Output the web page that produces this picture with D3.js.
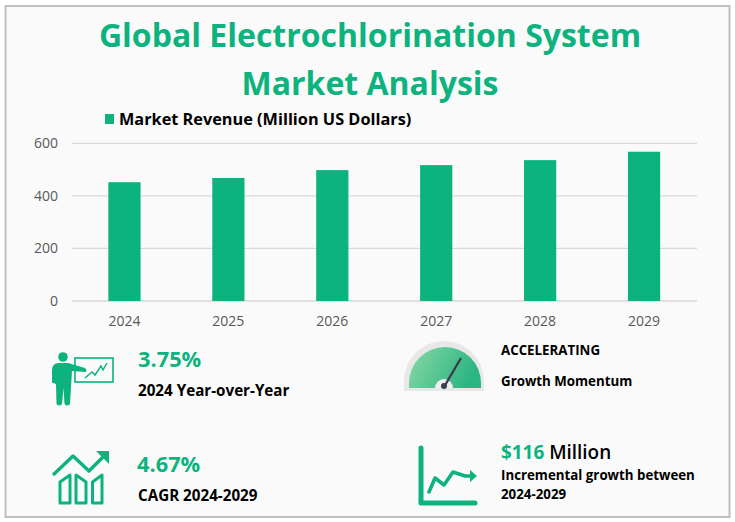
<html>
<head>
<meta charset="utf-8">
<style>
  html, body { margin: 0; padding: 0; background: #fff; }
  svg { display: block; }
  text { font-family: "Open Sans", "Noto Sans", sans-serif; }
  .axis text { font-size: 14px; fill: #595959; }
  .axis path, .axis line { display: none; }
  .grid line { stroke: #d9d9d9; stroke-width: 1.3; }
  .title { font-size: 32px; font-weight: 700; fill: #0db37e; text-anchor: middle; }
  .label { font-size: 15.2px; font-weight: 700; fill: #000; }
  .small { font-size: 13.3px; }
  .big { font-size: 21.8px; font-weight: 700; fill: #0db37e; }
</style>
<script src="https://d3js.org/d3.v7.min.js"></script>
</head>
<body>
<script>
var years = ["2024", "2025", "2026", "2027", "2028", "2029"]
var revenue = [452, 468, 498, 517, 536, 568]
var yTicks = [0, 200, 400, 600]
var titleLines = ["Global Electrochlorination System", "Market Analysis"]
var seriesName = "Market Revenue (Million US Dollars)"
var green = "#0db37e"

var svg = d3.select("body").append("svg").attr("width", 735).attr("height", 522)

// frame
svg.append("rect").attr("x", 5.5).attr("y", 6).attr("width", 724).attr("height", 511)
   .attr("fill", "#fafafa").attr("stroke", "#bfbfbf").attr("stroke-width", 2)

// title
svg.selectAll(".title").data(titleLines).enter().append("text")
   .attr("class", "title").attr("x", 370)
   .attr("y", function(d, i) { return 47 + i * 48 }).text(function(d) { return d })

// legend
svg.append("rect").attr("x", 105).attr("y", 114).attr("width", 9).attr("height", 10).attr("fill", green)
svg.append("text").attr("x", 119).attr("y", 125).attr("font-size", 16.3).attr("font-weight", 700)
   .attr("fill", "#000").text(seriesName)

// chart
var x = d3.scaleBand().domain(years).range([72.5, 696]).paddingInner(0.69).paddingOuter(0.345)
var y = d3.scaleLinear().domain([0, 600]).range([301, 143.3])

svg.append("g").attr("class", "grid").selectAll("line").data(yTicks).enter().append("line")
   .attr("x1", 72).attr("x2", 697)
   .attr("y1", function(d) { return y(d) }).attr("y2", function(d) { return y(d) })

svg.selectAll(".bar").data(revenue).enter().append("rect").attr("class", "bar")
   .attr("x", function(d, i) { return x(years[i]) })
   .attr("y", function(d) { return y(d) })
   .attr("width", x.bandwidth())
   .attr("height", function(d) { return y(0) - y(d) })
   .attr("fill", green)

svg.append("g").attr("class", "axis").attr("transform", "translate(0,301)")
   .call(d3.axisBottom(x).tickSize(0).tickPadding(15))
svg.append("g").attr("class", "axis").attr("transform", "translate(58,0)")
   .call(d3.axisLeft(y).tickValues(yTicks).tickSize(0).tickPadding(0))

// stats text
svg.append("text").attr("class", "big").attr("x", 138).attr("y", 367).text("3.75%")
svg.append("text").attr("class", "label").attr("x", 138).attr("y", 396).text("2024 Year-over-Year")
svg.append("text").attr("class", "big").attr("x", 137).attr("y", 472).text("4.67%")
svg.append("text").attr("class", "label").attr("x", 138).attr("y", 501).text("CAGR 2024-2029")
svg.append("text").attr("class", "label small").attr("x", 501).attr("y", 355).text("ACCELERATING")
svg.append("text").attr("class", "label small").attr("x", 501).attr("y", 386).text("Growth Momentum")
var m = svg.append("text").attr("class", "big").attr("x", 501).attr("y", 459).style("font-size", "18.9px")
m.append("tspan").text("$116 ")
m.append("tspan").style("fill", "#000").style("font-weight", 600).text("Million")
svg.append("text").attr("class", "label small").attr("x", 501).attr("y", 480).text("Incremental growth between")
svg.append("text").attr("class", "label small").attr("x", 501).attr("y", 499).text("2024-2029")

// presenter icon
var p = svg.append("g").attr("fill", green).attr("stroke", "none")
p.append("circle").attr("cx", 63).attr("cy", 357).attr("r", 4.8)
p.append("path").attr("d", "M52 370 Q52 364 58 363 L68 363 L85 368 Q88 371 85 372 L72 371 L71 387 L70 404 Q67 407 64.5 404 L63.5 388 L62 404 Q59 407 56.5 404 L56 384 L55 384 L55 383 Q52 384 52 382 Z")
svg.append("rect").attr("x", 75).attr("y", 358).attr("width", 38).attr("height", 24)
   .attr("fill", "none").attr("stroke", green).attr("stroke-width", 1.6)
svg.append("path").attr("d", "M85 378 L92 372 L95 375 L101 366 L103 370 L107 363")
   .attr("fill", "none").attr("stroke", green).attr("stroke-width", 1.5)

// growth icon
var g1 = svg.append("g").attr("fill", "none").attr("stroke", green).attr("stroke-linejoin", "round")
g1.append("path").attr("d", "M53 475 L73 456 L89 471 L107 453").attr("stroke-width", 3.4)
svg.append("path").attr("d", "M96 451 L109 451 L109 464 Z").attr("fill", green)
g1.append("path").attr("d", "M60 503 L60 482 L70 475 L70 503 Z").attr("stroke-width", 3)
g1.append("path").attr("d", "M76 503 L76 475 L86 482 L86 503 Z").attr("stroke-width", 3)
g1.append("path").attr("d", "M92.5 503 L92.5 482 L102 475 L102 503 Z").attr("stroke-width", 3)

// gauge icon
var defs = svg.append("defs")
var grad = defs.append("linearGradient").attr("id", "dial").attr("x1", 0).attr("x2", 1).attr("y1", 0).attr("y2", 0.3)
grad.append("stop").attr("offset", "0").attr("stop-color", "#8ad9a5")
grad.append("stop").attr("offset", "1").attr("stop-color", "#2bb583")
svg.append("path").attr("d", "M404 391 L404 381 A40 40 0 0 1 484 381 L484 391 Z").attr("fill", "#e8e8e8")
svg.append("path").attr("d", "M409 388 L409 383 A36 36 0 0 1 481 383 L481 388 Z").attr("fill", "url(#dial)")
svg.append("path").attr("d", "M435 388 A9 9 0 0 1 453 388 Z").attr("fill", "#eeeeee")
svg.append("line").attr("x1", 444).attr("y1", 387).attr("x2", 461).attr("y2", 358)
   .attr("stroke", "#3a3f4e").attr("stroke-width", 2.4)
svg.append("circle").attr("cx", 444).attr("cy", 386).attr("r", 3).attr("fill", "#3a3f4e")

// line chart icon
var g2 = svg.append("g").attr("fill", "none").attr("stroke", green).attr("stroke-linecap", "round").attr("stroke-linejoin", "round")
g2.append("path").attr("d", "M421 448 L421 503 L475 503").attr("stroke-width", 5)
g2.append("path").attr("d", "M429 492 L435 478 L444 485 L453 472 L465 476 L473 476").attr("stroke-width", 3.6)
svg.append("path").attr("d", "M470 470 L477 476 L470 482 Z").attr("fill", green)
</script>
</body>
</html>
